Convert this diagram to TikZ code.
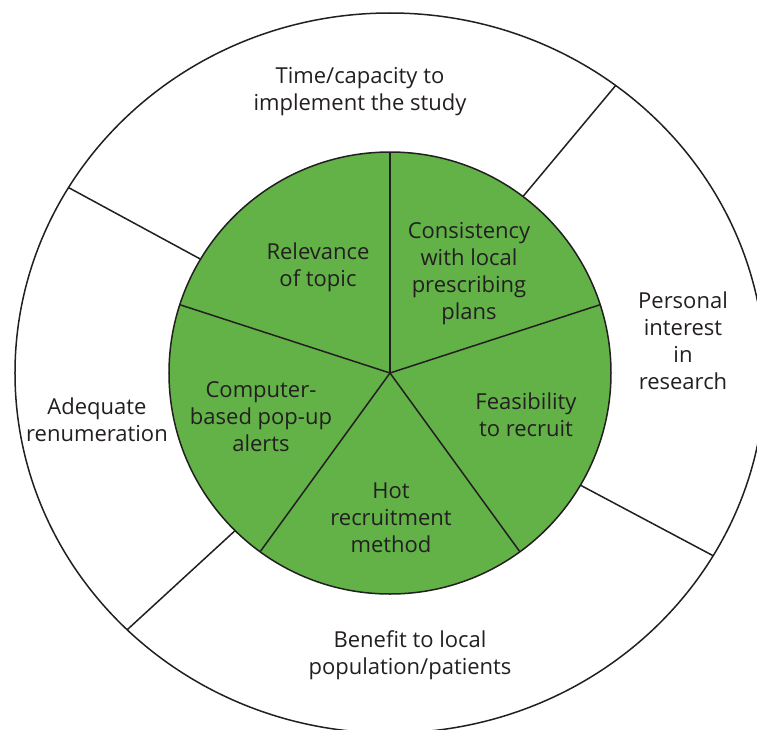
\documentclass[tikz,border=0pt]{standalone}
\usepackage{fontspec}
\setmainfont{Open Sans}
\usepackage{tikz}
\definecolor{piegreen}{RGB}{98,178,72}
\definecolor{inkgray}{RGB}{35,31,32}

\begin{document}
\begin{tikzpicture}[x=1pt,y=1pt]
        \tikzstyle{every node} = [align=center, text=inkgray, font=\fontsize{22}{27}\selectfont]
        \tikzstyle{rim} = [draw=inkgray, line width=1.5]
        \useasboundingbox (-390,-356) rectangle (367,373);

        \draw[rim] (0,0) ellipse [x radius=375, y radius=360];
        \filldraw[rim, fill=piegreen] (0,0) circle (221);
        \foreach \a in {90,18,-54,-126,162}
            \draw[rim] (0,0) -- (\a:221);
        \foreach \a in {53,-30.5,225.5,149}
            \draw[rim] (\a:221) -- ({375*cos(\a)},{360*sin(\a)});

        \node (relevance) at (-72,106) {Relevance\\of topic};
        \node (consistency) at (79,99) {Consistency\\with local\\prescribing\\plans};
        \node (feasibility) at (136,-42) {Feasibility\\to recruit};
        \node (hot) at (1,-145) {Hot\\recruitment\\method};
        \node (computer) at (-129,-44) {Computer-\\based pop-up\\alerts};

        \node (time) at (-30,281) {Time/capacity to\\implement the study};
        \node (personal) at (293,32) {Personal\\interest\\in\\research};
        \node (benefit) at (20,-282) {Benefit to local\\population/patients};
        \node (adequate) at (-293,-47) {Adequate\\renumeration};
\end{tikzpicture}
\end{document}
